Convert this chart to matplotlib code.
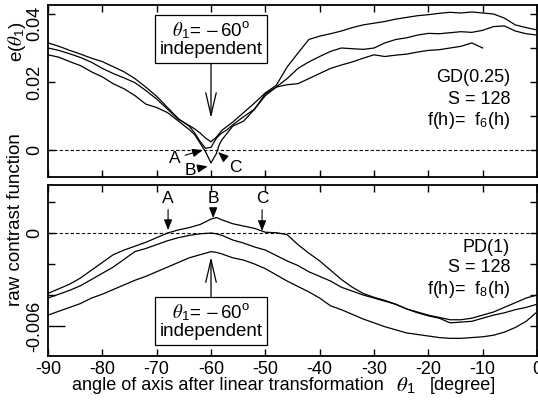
import matplotlib
matplotlib.use('Agg')
import matplotlib.pyplot as plt
from matplotlib.transforms import ScaledTranslation

plt.rcParams['font.family'] = ['Liberation Sans', 'DejaVu Sans']
plt.rcParams['mathtext.fontset'] = 'stix'
plt.rcParams['axes.unicode_minus'] = False

# ---- data ----
# upper panel, e(theta1), values in units of 1e-3
x_top = [-90, -88, -86, -84, -82, -80, -78, -76, -74, -72, -70, -68, -66, -64, -63, -62, -61,
         -60, -59, -58.5, -58, -57, -56, -54, -52, -50, -48, -46, -44, -42, -40, -38, -36, -34,
         -32, -30, -28, -26, -24, -22, -20, -18, -16, -14, -12, -10, -8, -6, -4, -2, 0]
gd_upper = [30.0, 29.3, 28.3, 27.2, 25.8, 24.0, 22.5, 21.2, 19.8, 17.5, 15.0, 12.0, 9.0, 7.2, 6.2,
            5.0, 3.5, 2.4, 3.8, 4.8, 5.8, 7.0, 8.2, 11.0, 13.8, 16.8, 19.0, 24.4, 28.5, 32.5, 33.5,
            34.2, 35.0, 36.0, 36.8, 37.3, 37.8, 38.5, 39.0, 39.5, 39.8, 40.2, 40.5, 40.3, 40.6,
            40.3, 40.0, 38.8, 36.8, 36.0, 35.3]
gd_mid = [31.5, 30.5, 29.3, 28.2, 27.0, 26.0, 24.5, 23.0, 21.0, 18.5, 15.8, 12.5, 9.2, 7.0, 5.0,
          2.5, 0.5, 0.8, 3.5, 4.3, 5.0, 6.0, 7.4, 9.8, 12.0, 16.0, 18.5, 21.0, 24.0, 25.9, 27.5,
          29.0, 30.0, 29.8, 29.6, 30.0, 31.5, 32.5, 33.0, 33.8, 34.3, 34.2, 34.5, 34.8, 34.6,
          35.2, 36.3, 36.5, 35.0, 34.2, 33.8]
gd_low = [28.0, 27.3, 26.0, 24.8, 23.0, 21.5, 19.5, 18.0, 16.0, 13.5, 12.5, 11.0, 8.5, 6.0, 4.5,
          2.0, -0.5, -3.8, -1.0, 1.5, 3.0, 5.0, 7.0, 8.5, 12.0, 16.5, 18.5, 19.2, 19.5, 21.0,
          22.5, 24.0, 25.0, 25.9, 27.0, 28.0, 27.5, 27.9, 28.2, 28.8, 29.3, 29.5, 30.0, 30.5,
          31.5, 30.0]

# lower panel, raw contrast function, values in units of 1e-3
x_bot = [-90, -88, -86, -84, -82, -80, -78, -76, -74, -72, -70, -68, -66, -64, -62, -60, -59,
         -58, -56, -54, -52, -50, -48, -46, -44, -42, -40, -38, -36, -34, -32, -30, -28, -26,
         -24, -22, -20, -18, -16, -14, -12, -10, -8, -6, -4, -2, 0]
pd_upper = [-3.9, -3.6, -3.3, -2.9, -2.4, -1.9, -1.4, -1.1, -0.85, -0.6, -0.3, 0.0, 0.2, 0.35,
            0.55, 0.9, 1.0, 0.85, 0.6, 0.45, 0.3, 0.05, 0.02, -0.1, -0.75, -1.3, -1.8, -2.4,
            -3.0, -3.5, -3.9, -4.15, -4.35, -4.6, -4.9, -5.1, -5.3, -5.45, -5.6, -5.6, -5.5,
            -5.3, -5.1, -4.8, -4.5, -4.2, -4.0]
pd_mid = [-4.2, -3.95, -3.7, -3.4, -3.0, -2.6, -2.2, -1.7, -1.2, -1.0, -0.75, -0.5, -0.3, -0.15,
          -0.05, 0.0, -0.05, -0.15, -0.45, -0.65, -0.9, -1.1, -1.45, -1.8, -2.1, -2.5, -2.8,
          -3.1, -3.5, -3.75, -4.0, -4.2, -4.4, -4.6, -4.9, -5.15, -5.35, -5.5, -5.8, -5.75,
          -5.7, -5.5, -5.3, -5.15, -4.95, -4.8, -4.6]
pd_low = [-5.3, -5.05, -4.8, -4.55, -4.2, -3.95, -3.65, -3.35, -3.05, -2.8, -2.5, -2.2, -1.9,
          -1.6, -1.4, -1.2, -1.25, -1.35, -1.6, -1.75, -2.0, -2.3, -2.7, -3.1, -3.45, -3.8,
          -4.2, -4.7, -4.95, -5.25, -5.55, -5.8, -6.05, -6.25, -6.45, -6.55, -6.65, -6.75,
          -6.8, -6.8, -6.75, -6.7, -6.6, -6.4, -6.1, -5.7, -5.1]

x_ticks = [-90, -80, -70, -60, -50, -40, -30, -20, -10, 0]
scale = 1e-3

fig = plt.figure(figsize=(5.38, 4.03), dpi=100)
ax1 = fig.add_axes([48/538, 1-177/403, 489/538, 172/403])
ax2 = fig.add_axes([48/538, 1-356/403, 489/538, 171/403])

ax1.plot(x_top, [v*scale for v in gd_upper], color='k', lw=0.9)
ax1.plot(x_top, [v*scale for v in gd_mid], color='k', lw=0.9)
ax1.plot(x_top[:len(gd_low)], [v*scale for v in gd_low], color='k', lw=0.9)
ax2.plot(x_bot, [v*scale for v in pd_upper], color='k', lw=0.9)
ax2.plot(x_bot, [v*scale for v in pd_mid], color='k', lw=0.9)
ax2.plot(x_bot, [v*scale for v in pd_low], color='k', lw=0.9)

for ax in (ax1, ax2):
    ax.axhline(0, color='k', lw=0.8, ls=(0, (3, 2)))
    ax.set_xlim(-90, 0)
    ax.set_xticks(x_ticks)
    ax.tick_params(which='both', direction='in', top=True, right=True, length=5, width=1,
                   labelsize=13)
    ax.tick_params(axis='y', labelrotation=90)
    for s in ax.spines.values():
        s.set_linewidth(1.3)

ax1.set_ylim(-0.00794, 0.04265)
ax1.set_yticks([0, 0.02, 0.04])
ax1.set_yticklabels(['0', '0.02', '0.04'])
ax1.set_yticks([0.01, 0.03], minor=True)
ax1.tick_params(axis='y', which='minor', left=False, right=True, length=5)
ax1.tick_params(labelbottom=False)

ax2.set_ylim(-0.00794, 0.0031)
ax2.set_yticks([0, -0.006])
ax2.set_yticklabels(['0', '-0.006'])
ax2.set_yticks([0.002, -0.002, -0.004], minor=True)
ax2.set_xticklabels([str(t) for t in x_ticks])
ax2.yaxis.get_major_ticks()[1].tick1line.set_markersize(12)

for ax in (ax1, ax2):
    for lab in ax.get_yticklabels():
        lab.set_va('center')
# the 0.04 label sits a little below its tick, as in the original
top_lab = ax1.yaxis.get_major_ticks()[2].label1
top_lab.set_transform(top_lab.get_transform() + ScaledTranslation(0, -7/72, fig.dpi_scale_trans))

box_txt = r'$\theta_{\mathregular{1}}$= $-\,$60$^{\mathregular{o}}$' + '\nindependent'
box_kw = dict(boxstyle='square,pad=0.25', fc='white', ec='k', lw=0.9)
head = dict(arrowstyle='->,head_length=1.2,head_width=0.28', lw=0.9, color='k',
            shrinkA=0, shrinkB=0)
ax1.annotate(box_txt, xy=(-60, 0.0094), xytext=(-60, 0.0325), ha='center', va='center',
             fontsize=13.5, linespacing=1.0, bbox=box_kw, arrowprops=head)
ax2.annotate(box_txt, xy=(-60, -0.00155), xytext=(-60, -0.0057), ha='center', va='center',
             fontsize=13.5, linespacing=1.0, bbox=box_kw, arrowprops=head)

small = dict(arrowstyle='-|>,head_length=0.5,head_width=0.2', lw=0.8, color='k',
             shrinkA=1, shrinkB=0)
ax1.annotate('A', xy=(-61.5, 0.0), xytext=(-66.6, -0.0024), ha='center', va='center',
             fontsize=12.5, arrowprops=small)
ax1.annotate('B', xy=(-60.6, -0.0048), xytext=(-63.8, -0.0059), ha='center', va='center',
             fontsize=12.5, arrowprops=small)
ax1.annotate('C', xy=(-58.7, -0.0006), xytext=(-55.6, -0.0050), ha='center', va='center',
             fontsize=12.5, arrowprops=small)
ax2.annotate('A', xy=(-67.9, 0.00019), xytext=(-67.9, 0.00226), ha='center', va='center',
             fontsize=12.5, arrowprops=small)
ax2.annotate('B', xy=(-59.6, 0.00097), xytext=(-59.6, 0.00226), ha='center', va='center',
             fontsize=12.5, arrowprops=small)
ax2.annotate('C', xy=(-50.6, 0.00013), xytext=(-50.6, 0.00226), ha='center', va='center',
             fontsize=12.5, arrowprops=small)

txt = dict(ha='right', va='center', fontsize=13)
ax1.text(0.945, 0.576, 'GD(0.25)', transform=ax1.transAxes, **txt)
ax1.text(0.945, 0.448, 'S = 128', transform=ax1.transAxes, **txt)
ax1.text(0.945, 0.326, r'f(h)=  f$_{\mathregular{6}}$(h)', transform=ax1.transAxes, **txt)
ax2.text(0.945, 0.637, 'PD(1)', transform=ax2.transAxes, **txt)
ax2.text(0.945, 0.515, 'S = 128', transform=ax2.transAxes, **txt)
ax2.text(0.945, 0.386, r'f(h)=  f$_{\mathregular{8}}$(h)', transform=ax2.transAxes, **txt)

fig.text(17/538, 1-42/403, r'e($\theta_{\mathregular{1}}$)', rotation=90, ha='center',
         va='center', fontsize=13.5)
fig.text(16/538, 1-220/403, 'raw contrast function', rotation=90, ha='center', va='center',
         fontsize=13.5)
fig.text(72/538, 1-386/403, 'angle of axis after linear transformation', ha='left',
         va='center', fontsize=13)
fig.text(396/538, 1-386/403, r'$\theta_{\mathregular{1}}$', ha='left', va='center',
         fontsize=15)
fig.text(430/538, 1-386/403, '[degree]', ha='left', va='center', fontsize=13)

fig.savefig('out.png', dpi=100)
